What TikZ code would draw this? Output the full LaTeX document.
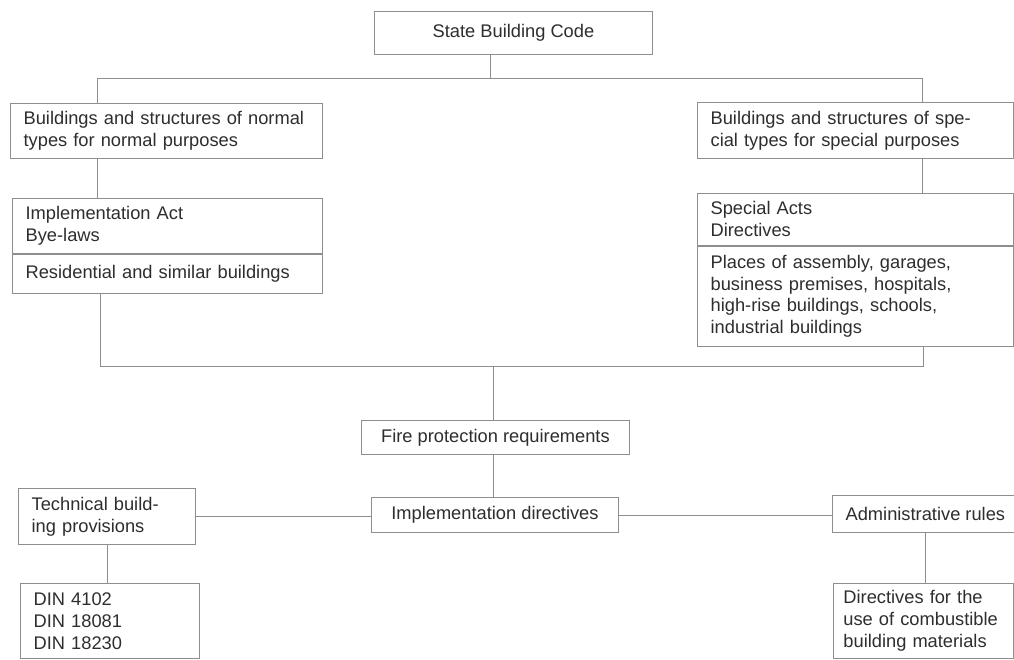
\documentclass[tikz,border=0pt]{standalone}
\usepackage{fontspec}
\setmainfont{Liberation Sans}
\usetikzlibrary{positioning}
\definecolor{CodeInk}{HTML}{2E2E2E}
\definecolor{CodeRule}{HTML}{8E8E8E}

\begin{document}
\begin{tikzpicture}[
      x=0.025cm,y=-0.025cm,
      font=\fontsize{13}{15.6}\selectfont,
      box/.style={draw=CodeRule,line width=0.6pt,anchor=north west,align=left,inner xsep=0.33cm,inner ysep=0pt,text=CodeInk},
      cbox/.style={box,align=center},
      link/.style={draw=CodeRule,line width=0.6pt}
    ]
      \useasboundingbox[fill=white] (0,0) rectangle (1014,659);

      \node[cbox,minimum width=6.95cm,minimum height=1.075cm] (code) at (374,11) {State Building Code};

      \node[box,minimum width=7.8cm,minimum height=1.375cm,text width=7.14cm] (normal) at (10,103)
        {Buildings and structures of normal\\types for normal purposes};
      \node[box,minimum width=7.75cm,minimum height=1.375cm,text width=7.09cm] (implact) at (12,198)
        {Implementation Act\\Bye-laws};
      \node[box,minimum width=7.75cm,minimum height=0.975cm,text width=7.09cm] (resid) at (implact.south west)
        {Residential and similar buildings};

      \node[box,minimum width=7.9cm,minimum height=1.4cm,text width=7.24cm] (special) at (697,102)
        {Buildings and structures of spe-\\cial types for special purposes};
      \node[box,minimum width=7.9cm,minimum height=1.3cm,text width=7.24cm] (acts) at (697,193)
        {Special Acts\\Directives};
      \node[box,minimum width=7.9cm,minimum height=2.5cm,text width=7.24cm] (places) at (acts.south west)
        {Places of assembly, garages,\\business premises, hospitals,\\high-rise buildings, schools,\\industrial buildings};

      \node[cbox,minimum width=6.7cm,minimum height=0.85cm] (fire) at (361,420) {Fire protection requirements};
      \node[cbox,minimum width=6.175cm,minimum height=0.875cm] (impdir) at (371,497) {Implementation directives};

      \node[box,minimum width=4.425cm,minimum height=1.4cm,text width=3.765cm] (tech) at (18,488)
        {Technical build-\\ing provisions};
      \node[box,minimum width=4.475cm,minimum height=1.875cm,text width=3.815cm] (din) at (20,583)
        {DIN 4102\\DIN 18081\\DIN 18230};

      \node[cbox,minimum width=4.525cm,minimum height=0.925cm] (admin) at (832,495) {Administrative rules};
      \node[box,inner xsep=0.25cm,minimum width=4.5cm,minimum height=1.875cm,text width=4.0cm] (combust) at (833,583)
        {Directives for the\\use of combustible\\building materials};

      \coordinate (busM) at (490,78);
      \coordinate (busL) at (97,78);
      \coordinate (busR) at (922,78);
      \coordinate (lowM) at (493,366);
      \coordinate (lowL) at (100,366);
      \coordinate (lowR) at (923,366);

      \draw[link] (code.south -| busM) -- (busM);
      \draw[link] (busL |- normal.north) -- (busL) -- (busR) -- (busR |- special.north);
      \draw[link] (busL |- normal.south) -- (busL |- implact.north);
      \draw[link] (busR |- special.south) -- (busR |- acts.north);
      \draw[link] (lowL |- resid.south) -- (lowL) -- (lowR) -- (lowR |- places.south);
      \draw[link] (lowM) -- (lowM |- fire.north);
      \draw[link] (lowM |- fire.south) -- (lowM |- impdir.north);
      \draw[link] (tech.east) -- (tech.east -| impdir.west);
      \draw[link] (impdir.east) -- (impdir.east -| admin.west);
      \draw[link] (tech.south) -- (tech.south |- din.north);
      \draw[link] (admin.south) -- (admin.south |- combust.north);
    \end{tikzpicture}
\end{document}
